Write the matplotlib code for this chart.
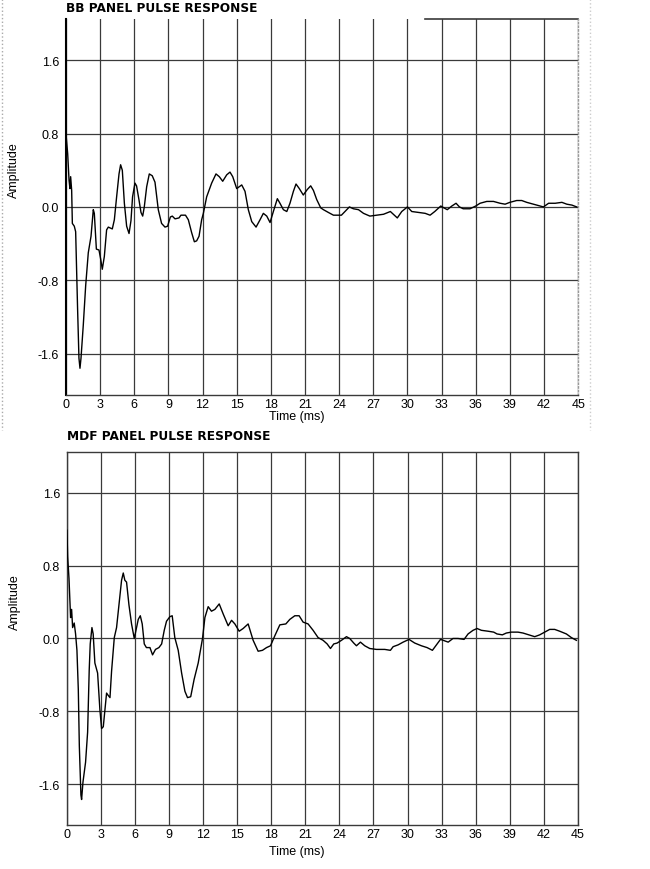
import numpy as np
import matplotlib
matplotlib.use("Agg")
import matplotlib.pyplot as plt
from matplotlib.lines import Line2D

# BB panel pulse response (time in ms, amplitude)
bb_t = [0.0, 0.15, 0.27, 0.35, 0.41, 0.5, 0.56, 0.73, 0.85, 1.02, 1.14, 1.23, 1.32, 1.52, 1.73,
        1.96, 2.2, 2.4, 2.49, 2.67, 2.9, 3.05, 3.19, 3.37, 3.57, 3.72, 4.07, 4.25, 4.45, 4.66,
        4.8, 4.95, 5.13, 5.33, 5.54, 5.71, 5.85, 6.06, 6.2, 6.41, 6.59, 6.74, 6.88, 7.09, 7.32,
        7.58, 7.82, 8.11, 8.4, 8.7, 8.93, 9.17, 9.34, 9.58, 9.93, 10.1, 10.5, 10.75, 11.04, 11.28,
        11.48, 11.69, 11.92, 12.07, 12.36, 12.8, 13.18, 13.47, 13.77, 14.12, 14.41, 14.65, 15.0,
        15.44, 15.73, 16.02, 16.32, 16.7, 17.05, 17.34, 17.64, 17.93, 18.22, 18.57, 18.8, 19.1,
        19.4, 19.68, 19.98, 20.21, 20.5, 20.85, 21.2, 21.5, 21.74, 22.03, 22.38, 22.62, 23.05,
        23.5, 24.2, 24.67, 24.9, 25.25, 25.7, 26.14, 26.7, 27.3, 27.9, 28.5, 28.85, 29.11, 29.5,
        30.0, 30.38, 30.97, 31.56, 31.99, 32.4, 32.93, 33.2, 33.5, 33.9, 34.27, 34.57, 34.9,
        35.5, 36.0, 36.38, 36.97, 37.56, 38.14, 38.58, 39.0, 39.6, 40.04, 40.48, 41.07, 41.65,
        41.95, 42.4, 42.98, 43.57, 44.0, 44.45, 44.87]
bb_a = [0.8, 0.58, 0.29, 0.2, 0.33, 0.18, -0.18, -0.21, -0.27, -1.11, -1.65, -1.76, -1.65, -1.29,
        -0.86, -0.5, -0.32, -0.03, -0.07, -0.46, -0.47, -0.57, -0.68, -0.54, -0.25, -0.22, -0.24,
        -0.14, 0.11, 0.36, 0.46, 0.4, 0.04, -0.21, -0.29, -0.15, 0.11, 0.26, 0.23, 0.08, -0.06,
        -0.1, 0.0, 0.22, 0.36, 0.34, 0.27, -0.03, -0.18, -0.22, -0.21, -0.11, -0.1, -0.13, -0.12,
        -0.09, -0.09, -0.14, -0.28, -0.38, -0.37, -0.32, -0.14, -0.07, 0.11, 0.26, 0.36, 0.33,
        0.28, 0.35, 0.38, 0.33, 0.2, 0.24, 0.17, -0.03, -0.16, -0.22, -0.14, -0.07, -0.1, -0.17,
        -0.05, 0.09, 0.04, -0.03, -0.05, 0.04, 0.17, 0.25, 0.2, 0.13, 0.19, 0.23, 0.18, 0.08,
        -0.01, -0.03, -0.06, -0.09, -0.09, -0.03, 0.0, -0.02, -0.03, -0.07, -0.1, -0.09, -0.08,
        -0.05, -0.09, -0.12, -0.05, 0.0, -0.05, -0.06, -0.07, -0.09, -0.05, 0.01, -0.01, -0.03,
        0.01, 0.04, 0.0, -0.02, -0.02, 0.01, 0.04, 0.06, 0.06, 0.04, 0.03, 0.05, 0.07, 0.07,
        0.05, 0.03, 0.01, 0.0, 0.04, 0.04, 0.05, 0.03, 0.02, 0.0]

# MDF panel pulse response
mdf_t = [0.0, 0.06, 0.18, 0.26, 0.32, 0.41, 0.5, 0.64, 0.76, 0.88, 1.0, 1.09, 1.23, 1.29, 1.41,
         1.64, 1.82, 1.96, 2.05, 2.2, 2.31, 2.46, 2.7, 2.9, 3.05, 3.2, 3.35, 3.49, 3.6, 3.79,
         3.93, 4.17, 4.37, 4.58, 4.81, 4.96, 5.1, 5.25, 5.46, 5.69, 5.93, 6.13, 6.28, 6.46, 6.63,
         6.81, 7.0, 7.31, 7.54, 7.8, 8.1, 8.34, 8.57, 8.77, 9.07, 9.27, 9.5, 9.8, 10.1, 10.39,
         10.62, 10.9, 11.2, 11.56, 11.94, 12.15, 12.44, 12.73, 13.03, 13.41, 13.76, 14.2, 14.5,
         14.79, 15.17, 15.52, 15.96, 16.4, 16.84, 17.22, 17.58, 17.93, 18.31, 18.75, 19.28, 19.63,
         20.07, 20.45, 20.8, 21.24, 21.68, 22.12, 22.56, 22.92, 23.21, 23.5, 23.8, 24.18, 24.62,
         24.91, 25.26, 25.5, 25.85, 26.23, 26.67, 27.26, 27.99, 28.49, 28.73, 29.17, 29.61, 30.13,
         30.63, 31.22, 31.72, 32.19, 32.55, 32.9, 33.14, 33.58, 34.0, 34.45, 34.98, 35.33, 35.77,
         36.12, 36.5, 37.09, 37.59, 37.88, 38.35, 38.7, 39.14, 39.73, 40.17, 40.7, 41.2, 41.64,
         42.08, 42.52, 42.96, 43.4, 43.99, 44.43, 44.87]
mdf_a = [1.19, 0.9, 0.66, 0.41, 0.23, 0.32, 0.12, 0.17, 0.05, -0.13, -0.56, -1.18, -1.72, -1.77,
         -1.58, -1.36, -1.03, -0.35, -0.06, 0.12, 0.05, -0.27, -0.38, -0.78, -0.99, -0.97, -0.78,
         -0.6, -0.62, -0.65, -0.36, 0.01, 0.12, 0.37, 0.64, 0.72, 0.64, 0.62, 0.37, 0.16, 0.0,
         0.12, 0.21, 0.25, 0.16, -0.06, -0.1, -0.1, -0.18, -0.12, -0.1, -0.06, 0.09, 0.19, 0.24,
         0.25, 0.01, -0.13, -0.38, -0.58, -0.65, -0.64, -0.45, -0.27, 0.0, 0.23, 0.35, 0.3, 0.32,
         0.38, 0.27, 0.14, 0.2, 0.16, 0.08, 0.11, 0.16, -0.02, -0.14, -0.13, -0.1, -0.08, 0.03,
         0.15, 0.16, 0.21, 0.25, 0.25, 0.18, 0.16, 0.09, 0.01, -0.02, -0.06, -0.11, -0.06, -0.05,
         -0.02, 0.02, 0.0, -0.05, -0.08, -0.04, -0.08, -0.11, -0.12, -0.12, -0.13, -0.09, -0.07,
         -0.04, -0.01, -0.05, -0.08, -0.1, -0.13, -0.07, -0.01, -0.02, -0.04, 0.0, 0.0, -0.01,
         0.05, 0.09, 0.11, 0.09, 0.08, 0.07, 0.05, 0.04, 0.06, 0.07, 0.07, 0.06, 0.04, 0.02, 0.04,
         0.07, 0.1, 0.1, 0.08, 0.05, 0.01, -0.02]

titles = ["BB PANEL PULSE RESPONSE", "MDF PANEL PULSE RESPONSE"]
xticks = np.arange(0, 46, 3)
yticks = [-1.6, -0.8, 0.0, 0.8, 1.6]

plt.rcParams['font.family'] = ['Liberation Sans', 'DejaVu Sans']

fig = plt.figure(figsize=(6.5, 8.7), dpi=100)
ax1 = fig.add_axes([0.1015, 0.545, 0.788, 0.432])
ax2 = fig.add_axes([0.103, 0.0506, 0.786, 0.4287])

grid_col = '#3a3a3a'
panels = [(ax1, bb_t, bb_a, titles[0], 1.012, -0.04),
          (ax2, mdf_t, mdf_a, titles[1], 1.028, -0.055)]
for ax, t, a, title, ty, ly in panels:
    ax.plot(t, a, color='black', lw=1.0, zorder=3)
    ax.set_xlim(0, 45)
    ax.set_ylim(-2.05, 2.05)
    ax.set_xticks(xticks)
    ax.set_yticks(yticks)
    ax.set_yticklabels(['%.1f' % v for v in yticks])
    ax.grid(True, color=grid_col, lw=0.9)
    ax.tick_params(length=0, labelsize=9)
    ax.tick_params(axis='x', pad=2)
    ax.tick_params(axis='y', pad=5)
    ax.set_xlabel('Time (ms)', fontsize=9, va='top')
    ax.xaxis.set_label_coords(0.45, ly)
    ax.set_ylabel('Amplitude', fontsize=9)
    ax.yaxis.set_label_coords(-0.09, 0.6)
    for s in ax.spines.values():
        s.set_color(grid_col)
        s.set_linewidth(1.0)
    ax.text(0.0, ty, title, transform=ax.transAxes, fontsize=8.7,
            fontweight='heavy', family='DejaVu Sans', va='bottom', ha='left')

# top panel only has a partial top border and a dotted right edge
ax1.spines['top'].set_visible(False)
ax1.spines['right'].set_color('#999999')
ax1.spines['right'].set_linestyle(':')
ax1.plot([31.5, 45], [2.05, 2.05], color=grid_col, lw=1.2, clip_on=False)
ax1.spines['left'].set_color('black')
ax1.spines['left'].set_linewidth(1.5)

# light dotted frame at the page edges
fig.add_artist(Line2D([0.003, 0.003], [1.0, 0.505], color='#aaaaaa', lw=1, ls=':'))
fig.add_artist(Line2D([0.908, 0.908], [1.0, 0.505], color='#cccccc', lw=1, ls=':'))

fig.savefig('out.png', dpi=100)
